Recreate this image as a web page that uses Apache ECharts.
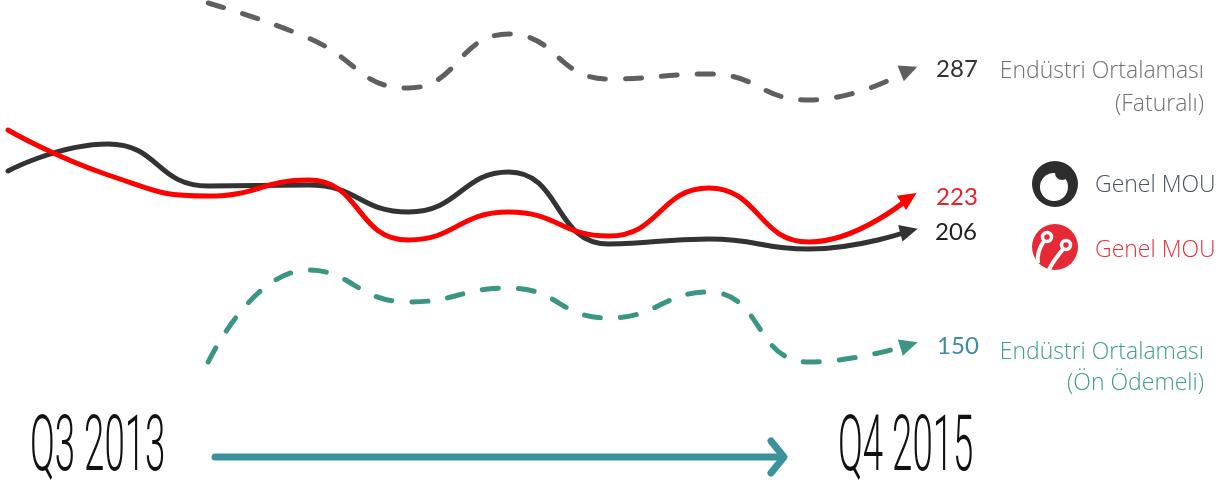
<!DOCTYPE html>
<html><head><meta charset="utf-8">
<script src="https://cdn.jsdelivr.net/npm/echarts@6/dist/echarts.min.js"></script>
<style>html,body{margin:0;padding:0;background:#fff}#c{width:1227px;height:483px}</style>
</head><body><div id="c"></div>
<script>
// Quarters from Q3 2013 to Q4 2015
const quarters = ['Q3 2013','Q4 2013','Q1 2014','Q2 2014','Q3 2014','Q4 2014','Q1 2015','Q2 2015','Q3 2015','Q4 2015'];
// Schematic levels (no value axis is shown)
const vodafoneLevel = [312, 339, 297, 298, 271, 311, 239, 244, 234, 252];
const turkcellLevel = [353, 308, 287, 303, 243, 271, 247, 295, 241, 285];
const postpaidLevel = [null, null, 480, 445, 395, 449, 404, 409, 383, 413];
const prepaidLevel  = [null, null, 121, 213, 181, 195, 165, 191, 121, 138];
// Final labelled values
const endValues = { postpaid: 287, turkcell: 223, vodafone: 206, prepaid: 150 };
const legendText = 'Genel MOU';
const periodLabels = ['Q3 2013', 'Q4 2015'];

const chart = echarts.init(document.getElementById('c'));
const FONT = '"Open Sans", Lato, sans-serif';
const ARROW = 'path://M0,0L14,7L0,14Z';
const last = quarters.length - 1;

function lineSeries(name, data, color, dashed) {
  return {
    name, type: 'line', smooth: 0.5, connectNulls: false,
    symbol: 'none', showSymbol: false,
    data,
    lineStyle: { color, width: 5, type: dashed ? [16, 20] : 'solid', cap: 'round' },
    emphasis: { disabled: true }, silent: true, z: dashed ? 2 : 3
  };
}
function arrowSeries(data, color, rot) {
  return {
    type: 'scatter', silent: true, z: 4,
    symbol: ARROW, symbolSize: [18, 17], symbolRotate: rot,
    itemStyle: { color, opacity: 1 },
    data: [[last, data[last]]]
  };
}

const option = {
  animation: false,
  grid: { left: 8, right: 318, top: 0, bottom: 0 },
  xAxis: { type: 'category', data: quarters, boundaryGap: false, show: false },
  yAxis: { type: 'value', min: 0, max: 483, show: false },
  series: [
    lineSeries('Endüstri Ortalaması (Faturalı)', postpaidLevel, '#5f5f5f', true),
    lineSeries('Endüstri Ortalaması (Ön Ödemeli)', prepaidLevel, '#3a9583', true),
    lineSeries('Vodafone Genel MOU', vodafoneLevel, '#333333', false),
    lineSeries('Turkcell Genel MOU', turkcellLevel, '#ff0000', false),
    arrowSeries(postpaidLevel, '#5f5f5f', 22),
    arrowSeries(prepaidLevel, '#3a9583', 17),
    arrowSeries(vodafoneLevel, '#333333', 15),
    arrowSeries(turkcellLevel, '#ff0000', 33)
  ],
  graphic: [
    // end value labels
    { type: 'text', x: 957, y: 69, style: { text: String(endValues.postpaid), font: '24px Lato, sans-serif', fill: '#333', align: 'center', verticalAlign: 'middle' } },
    { type: 'text', x: 1204, y: 71, style: { text: 'Endüstri Ortalaması', font: '300 23px ' + FONT, fill: '#707070', align: 'right', verticalAlign: 'middle' } },
    { type: 'text', x: 1204, y: 104, style: { text: '(Faturalı)', font: '300 23px ' + FONT, fill: '#707070', align: 'right', verticalAlign: 'middle' } },
    { type: 'text', x: 957, y: 197, style: { text: String(endValues.turkcell), font: '24px Lato, sans-serif', fill: '#e8202a', align: 'center', verticalAlign: 'middle' } },
    { type: 'text', x: 956, y: 232, style: { text: String(endValues.vodafone), font: '24px Lato, sans-serif', fill: '#222', align: 'center', verticalAlign: 'middle' } },
    { type: 'text', x: 958, y: 346, style: { text: String(endValues.prepaid), font: '24px Lato, sans-serif', fill: '#3a8ea0', align: 'center', verticalAlign: 'middle' } },
    { type: 'text', x: 1204, y: 352, style: { text: 'Endüstri Ortalaması', font: '300 23px ' + FONT, fill: '#3f9c8e', align: 'right', verticalAlign: 'middle' } },
    { type: 'text', x: 1204, y: 383, style: { text: '(Ön Ödemeli)', font: '300 23px ' + FONT, fill: '#3f9c8e', align: 'right', verticalAlign: 'middle' } },
    // legend: vodafone logo
    { type: 'circle', shape: { cx: 1055, cy: 184, r: 23 }, style: { fill: '#2d2d2d' } },
    { type: 'circle', shape: { cx: 1054, cy: 187, r: 14 }, style: { fill: '#fff' } },
    { type: 'circle', shape: { cx: 1062, cy: 173, r: 7 }, style: { fill: '#2d2d2d' } },
    { type: 'text', x: 1095, y: 185, style: { text: legendText, font: '300 23px ' + FONT, fill: '#4b5262', verticalAlign: 'middle' } },
    // legend: turkcell logo
    { type: 'circle', shape: { cx: 1055, cy: 247, r: 23 }, style: { fill: '#e52a36' } },
    { type: 'bezierCurve', shape: { x1: 1044, y1: 241, x2: 1038, y2: 263, cpx1: 1039, cpy1: 248, cpx2: 1037, cpy2: 256 }, style: { stroke: '#fff', lineWidth: 4, fill: null } },
    { type: 'bezierCurve', shape: { x1: 1063, y1: 249, x2: 1049, y2: 270, cpx1: 1058, cpy1: 256, cpx2: 1052, cpy2: 262 }, style: { stroke: '#fff', lineWidth: 4, fill: null } },
    { type: 'circle', shape: { cx: 1047, cy: 237, r: 4.5 }, style: { fill: '#e52a36', stroke: '#fff', lineWidth: 3.5 } },
    { type: 'circle', shape: { cx: 1066, cy: 245, r: 4.5 }, style: { fill: '#e52a36', stroke: '#fff', lineWidth: 3.5 } },
    { type: 'text', x: 1095, y: 250, style: { text: legendText, font: '300 23px ' + FONT, fill: '#e8303c', verticalAlign: 'middle' } },
    // period labels (condensed)
    { type: 'text', x: 30, y: 411, scaleX: 0.47, style: { text: periodLabels[0], font: '300 78px Roboto, "Liberation Sans", sans-serif', fill: '#111', verticalAlign: 'top' } },
    { type: 'text', x: 838, y: 411, scaleX: 0.47, style: { text: periodLabels[1], font: '300 78px Roboto, "Liberation Sans", sans-serif', fill: '#111', verticalAlign: 'top' } },
    // time arrow
    { type: 'polyline', shape: { points: [[215, 457], [783, 457]] }, style: { stroke: '#3a939c', lineWidth: 7, lineCap: 'round' } },
    { type: 'polyline', shape: { points: [[771, 441], [784, 457], [771, 473]] }, style: { stroke: '#3a939c', lineWidth: 7, lineCap: 'round', lineJoin: 'round', fill: null } }
  ]
};
chart.setOption(option);
</script>
</body></html>
